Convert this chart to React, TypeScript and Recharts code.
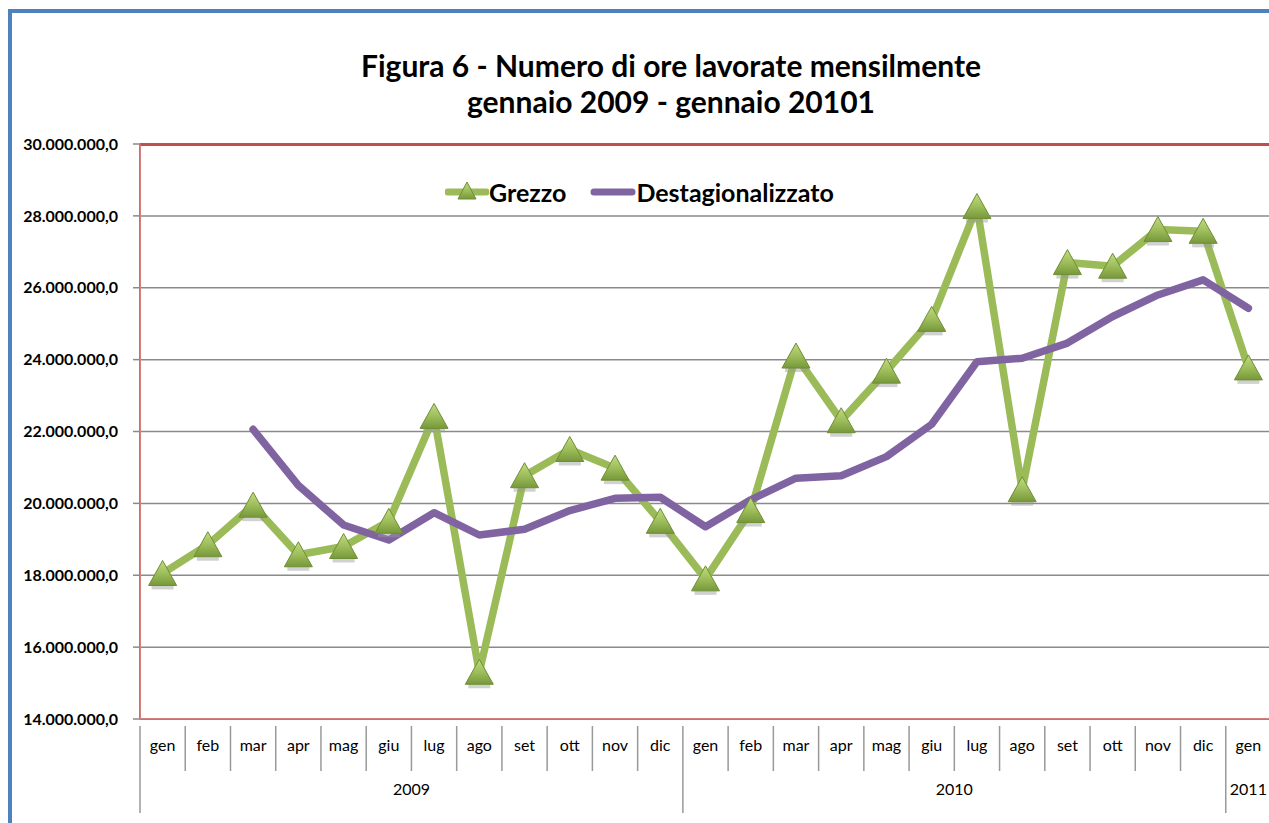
import { LineChart, Line, XAxis, YAxis, CartesianGrid } from 'recharts';

const mesi = ['gen', 'feb', 'mar', 'apr', 'mag', 'giu', 'lug', 'ago', 'set', 'ott', 'nov', 'dic',
  'gen', 'feb', 'mar', 'apr', 'mag', 'giu', 'lug', 'ago', 'set', 'ott', 'nov', 'dic', 'gen'];
const anni = ['2009', '2009', '2009', '2009', '2009', '2009', '2009', '2009', '2009', '2009', '2009', '2009',
  '2010', '2010', '2010', '2010', '2010', '2010', '2010', '2010', '2010', '2010', '2010', '2010', '2011'];
const grezzo = [18050000, 18850000, 19950000, 18570000, 18800000, 19500000, 22420000, 15300000, 20770000,
  21500000, 20980000, 19500000, 17900000, 19800000, 24100000, 22300000, 23680000, 25120000, 28260000,
  20380000, 26700000, 26600000, 27620000, 27570000, 23770000];
const destagionalizzato = [null, null, 22060000, 20500000, 19400000, 18980000, 19740000, 19120000, 19280000,
  19800000, 20140000, 20170000, 19350000, 20100000, 20700000, 20770000, 21300000, 22200000, 23940000,
  24040000, 24460000, 25200000, 25800000, 26220000, 25430000];
const yTicks = [14000000, 16000000, 18000000, 20000000, 22000000, 24000000, 26000000, 28000000, 30000000];

const data = mesi.map((m, i) => ({
  idx: i,
  mese: m,
  anno: anni[i],
  grezzo: grezzo[i],
  destag: destagionalizzato[i],
}));

const W = 1300;
const H = 823;
const M = { top: 144, right: 29, bottom: 14, left: 0 };
const Y_W = 140;
const X_H = 90;
const PLOT_L = M.left + Y_W;
const PLOT_W = W - PLOT_L - M.right;
const PLOT_H = H - M.top - M.bottom - X_H;
const BW = PLOT_W / mesi.length;

const FONT = 'Lato, "Open Sans", sans-serif';
const GREEN = '#9BBB59';
const PURPLE = '#8064A2';

const fmt = (v: number) => Math.round(v).toString().replace(/\B(?=(\d{3})+(?!\d))/g, '.') + ',0';

function MonthTick(props: any) {
  const { x, y, index } = props;
  const left = x - BW / 2;
  const first = index === 0 || anni[index] !== anni[index - 1];
  let year = null;
  if (first) {
    const n = anni.filter((a) => a === anni[index]).length;
    year = (
      <text x={left + (n * BW) / 2} y={y + 68} textAnchor="middle" fontSize={16} fill="#000" fontFamily={FONT}>
        {anni[index]}
      </text>
    );
  }
  return (
    <g>
      <line x1={left} x2={left} y1={y - 1} y2={first ? y + 86 : y + 44} stroke="#999" strokeWidth={1.5} />
      <text x={x} y={y + 24} textAnchor="middle" fontSize={16} fill="#000" fontFamily={FONT}>
        {mesi[index]}
      </text>
      {year}
    </g>
  );
}

function Triangle(props: any) {
  const { cx, cy, payload } = props;
  if (cx == null || cy == null || payload?.grezzo == null) return null;
  return (
    <g>
      <rect x={cx - 11} y={cy + 12} width={22} height={4} fill="#9a9a9a" opacity={0.45} />
      <polygon
        points={`${cx},${cy - 13} ${cx - 14},${cy + 12} ${cx + 14},${cy + 12}`}
        fill="url(#triGrad)"
        stroke="#6E8E35"
        strokeWidth={1}
      />
    </g>
  );
}

export default function App() {
  return (
    <div style={{ position: 'fixed', left: 0, top: 0, width: 1269, height: 823, overflow: 'hidden', background: '#fff' }}>
      <svg width={0} height={0} style={{ position: 'absolute' }}>
        <defs>
          <linearGradient id="triGrad" x1="0" y1="0" x2="0" y2="1">
            <stop offset="0%" stopColor="#C2DC80" />
            <stop offset="55%" stopColor="#9BBB59" />
            <stop offset="100%" stopColor="#77983A" />
          </linearGradient>
        </defs>
      </svg>
      <div style={{ position: 'absolute', left: 8, top: 9, width: 1400, height: 900, borderLeft: '4px solid #4F81BD', borderTop: '4px solid #4F81BD' }} />
      <div style={{ position: 'absolute', left: 171, width: 1000, top: 47, textAlign: 'center', fontFamily: FONT, fontWeight: 700, fontSize: 30, lineHeight: '36px', color: '#000' }}>
        Figura 6 - Numero di ore lavorate mensilmente
        <br />
        gennaio 2009 - gennaio 20101
      </div>
      <div style={{ position: 'absolute', left: 0, top: 0 }}>
        <LineChart width={W} height={H} data={data} margin={M}>
          <CartesianGrid vertical={false} stroke="#8a8a8a" strokeWidth={1.5} />
          <XAxis
            dataKey="idx"
            scale="band"
            interval={0}
            height={X_H}
            axisLine={{ stroke: '#8a8a8a', strokeWidth: 2 }}
            tickLine={false}
            tick={<MonthTick />}
          />
          <YAxis
            width={Y_W}
            domain={[14000000, 30000000]}
            ticks={yTicks}
            tickFormatter={fmt}
            tickSize={7}
            tickMargin={15}
            axisLine={{ stroke: '#8a8a8a', strokeWidth: 2 }}
            tickLine={{ stroke: '#8a8a8a', strokeWidth: 1.5 }}
            tick={{ fontSize: 16, fontWeight: 700, fill: '#000', fontFamily: FONT }}
          />
          <Line
            dataKey="grezzo"
            stroke={GREEN}
            strokeWidth={7.5}
            strokeLinejoin="round"
            dot={<Triangle />}
            activeDot={false}
            isAnimationActive={false}
          />
          <Line
            dataKey="destag"
            stroke={PURPLE}
            strokeWidth={7.5}
            strokeLinecap="round"
            strokeLinejoin="round"
            dot={false}
            activeDot={false}
            isAnimationActive={false}
          />
        </LineChart>
      </div>
      <div
        style={{
          position: 'absolute',
          left: PLOT_L,
          top: M.top - 1,
          width: PLOT_W,
          height: PLOT_H + 1,
          borderTop: '3px solid #C0504D',
          borderLeft: '1px solid #D88080',
          borderBottom: '1px solid #D88080',
          boxSizing: 'border-box',
          pointerEvents: 'none',
        }}
      />
      <div style={{ position: 'absolute', left: 445, top: 177, display: 'flex', alignItems: 'center', fontFamily: FONT, fontWeight: 700, fontSize: 25, color: '#000' }}>
        <svg width={44} height={30}>
          <line x1={3} x2={41} y1={15} y2={15} stroke={GREEN} strokeWidth={7} strokeLinecap="round" />
          <polygon points="22,5 13,22 31,22" fill="url(#triGrad)" stroke="#6E8E35" strokeWidth={1} />
        </svg>
        <span>Grezzo</span>
        <svg width={46} height={30} style={{ marginLeft: 24 }}>
          <line x1={4} x2={42} y1={15} y2={15} stroke={PURPLE} strokeWidth={7} strokeLinecap="round" />
        </svg>
        <span>Destagionalizzato</span>
      </div>
    </div>
  );
}
